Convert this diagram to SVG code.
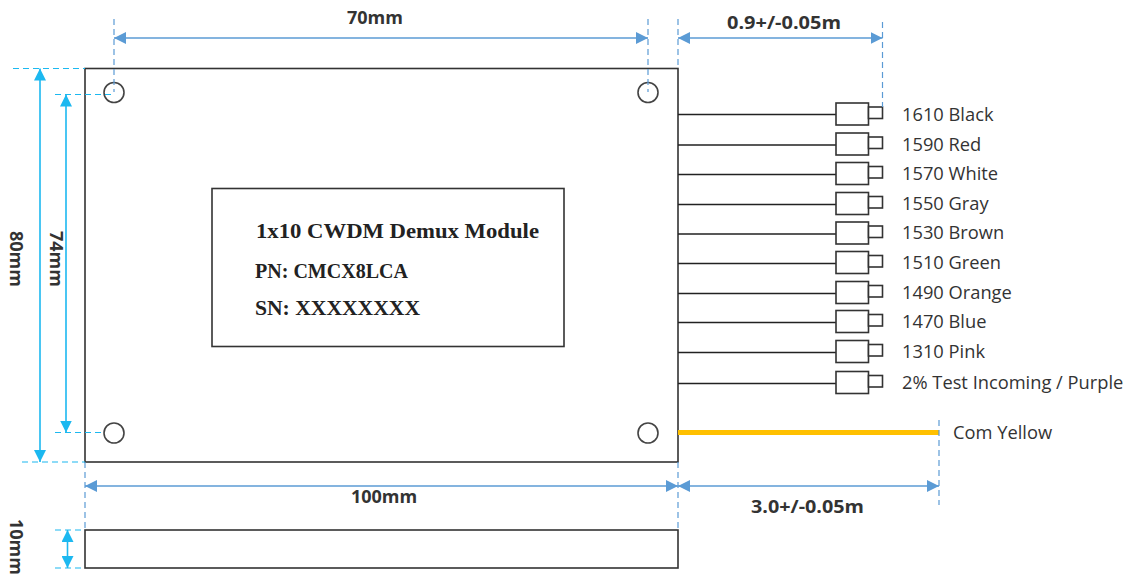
<svg xmlns="http://www.w3.org/2000/svg" width="1132" height="577" viewBox="0 0 1132 577">
<style>
.box{fill:#fff;stroke:#333;stroke-width:1.6}
.hole{fill:none;stroke:#444;stroke-width:1.6}
.wire{stroke:#222;stroke-width:1.5;fill:none}
.lab{font:18.300px "Open Sans","Liberation Sans",sans-serif;fill:#333}
.dim{font:bold 18px "Open Sans","Liberation Sans",sans-serif;fill:#333}
.ser{font:bold 21.500px "Liberation Serif",serif;fill:#222}
.db{stroke:#5b9bd5;stroke-width:1.2;stroke-dasharray:6 4;fill:none}
.dc{stroke:#1cb8f0;stroke-width:1.2;stroke-dasharray:6 4;fill:none}
.ab{stroke:#5b9bd5;stroke-width:1.4;fill:none;marker-start:url(#bs);marker-end:url(#be)}
.ac{stroke:#1cb8f0;stroke-width:1.6;fill:none;marker-start:url(#cs);marker-end:url(#ce)}
</style>
<defs>
<marker id="be" markerUnits="userSpaceOnUse" markerWidth="12" markerHeight="12" refX="12" refY="6" orient="auto"><path d="M0 0L12 6L0 12Z" fill="#5b9bd5"/></marker>
<marker id="bs" markerUnits="userSpaceOnUse" markerWidth="12" markerHeight="12" refX="0" refY="6" orient="auto"><path d="M12 0L0 6L12 12Z" fill="#5b9bd5"/></marker>
<marker id="ce" markerUnits="userSpaceOnUse" markerWidth="12" markerHeight="12" refX="12" refY="6" orient="auto"><path d="M0 0L12 6L0 12Z" fill="#1cb8f0"/></marker>
<marker id="cs" markerUnits="userSpaceOnUse" markerWidth="12" markerHeight="12" refX="0" refY="6" orient="auto"><path d="M12 0L0 6L12 12Z" fill="#1cb8f0"/></marker>
<g id="plug"><rect class="box" x="836" y="-11.500" width="32.500" height="22"/><rect class="box" x="868.500" y="-7.500" width="14" height="11.500"/></g>
</defs>
<rect width="1132" height="577" fill="#fff"/>
<g id="module"><rect class="box" x="85" y="68.500" width="593" height="393.500"/>
<circle class="hole" cx="114" cy="92.500" r="10"/><circle class="hole" cx="648" cy="92.500" r="10"/><circle class="hole" cx="114" cy="433" r="10"/><circle class="hole" cx="648" cy="433" r="10"/></g>
<g id="label-box"><rect class="box" x="212" y="188.500" width="352" height="158"/>
<text class="ser" x="256" y="238" textLength="283" lengthAdjust="spacingAndGlyphs">1x10 CWDM Demux Module</text>
<text class="ser" x="255" y="278" textLength="153" lengthAdjust="spacingAndGlyphs">PN: CMCX8LCA</text>
<text class="ser" x="255" y="315" textLength="165" lengthAdjust="spacingAndGlyphs">SN: XXXXXXXX</text></g>
<g id="side-view"><rect class="box" x="85" y="530" width="593" height="38"/></g>
<g id="connectors">
<path class="wire" d="M678 114.500H836M678 145H836M678 174.500H836M678 204.500H836M678 234H836M678 263.500H836M678 293.500H836M678 322.500H836M678 352.500H836M678 383.500H836"/>
<path d="M678 432.500H939" stroke="#ffc000" stroke-width="5" fill="none"/>
</g>
<g id="plugs">
<use href="#plug" y="114.500"/><use href="#plug" y="144.500"/><use href="#plug" y="174"/><use href="#plug" y="204"/><use href="#plug" y="233.500"/><use href="#plug" y="263"/><use href="#plug" y="293"/><use href="#plug" y="322"/><use href="#plug" y="352"/><use href="#plug" y="383"/>
</g>
<g id="fibre-labels">
<text class="lab" x="902" y="121">1610 Black</text>
<text class="lab" x="902" y="151">1590 Red</text>
<text class="lab" x="902" y="180">1570 White</text>
<text class="lab" x="902" y="210">1550 Gray</text>
<text class="lab" x="902" y="239">1530 Brown</text>
<text class="lab" x="902" y="269">1510 Green</text>
<text class="lab" x="902" y="299">1490 Orange</text>
<text class="lab" x="902" y="328">1470 Blue</text>
<text class="lab" x="902" y="358">1310 Pink</text>
<text class="lab" x="902" y="389">2% Test Incoming / Purple</text>
<text class="lab" x="953" y="439">Com Yellow</text>
</g>
<g id="dimensions">
<path class="db" d="M114 19V92M648 19V92M678 19V68M882.500 22V107M85 462V530M678 462V530M939 420V505"/>
<path class="dc" d="M13 68.500H85M55 94.500H113M55 432.500H103M22 462H85M55 530H85M55 568H85"/>
<path class="ab" d="M114 38H648"/><path class="ab" d="M678 38H882.500"/><path class="ab" d="M85 486H678"/><path class="ab" d="M678 486H939"/>
<path class="ac" d="M40 68.500V462"/><path class="ac" d="M66 94.500V432.500"/><path class="ac" d="M67.500 530V568"/>
<text class="dim" x="375" y="24" text-anchor="middle">70mm</text>
<text class="dim" x="727" y="29" textLength="114" lengthAdjust="spacingAndGlyphs">0.9+/-0.05m</text>
<text class="dim" x="384" y="503" text-anchor="middle">100mm</text>
<text class="dim" x="751" y="513" textLength="113" lengthAdjust="spacingAndGlyphs">3.0+/-0.05m</text>
<text class="dim" transform="translate(10 259) rotate(90)" text-anchor="middle">80mm</text>
<text class="dim" transform="translate(50 259) rotate(90)" text-anchor="middle">74mm</text>
<text class="dim" transform="translate(10 547) rotate(90)" text-anchor="middle">10mm</text>
</g>
</svg>
